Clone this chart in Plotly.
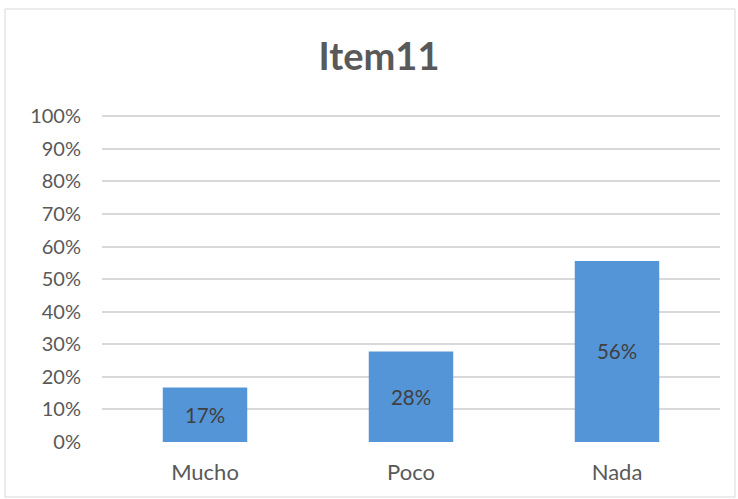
import plotly.graph_objects as go

categories = ["Mucho", "Poco", "Nada"]
values = [0.167, 0.278, 0.556]
labels = ["17%", "28%", "56%"]
tick_vals = [i / 10 for i in range(11)]
tick_text = [f"{i * 10}%" for i in range(11)]

FONT = "Lato"
GRAY = "#595959"

fig = go.Figure(
    go.Bar(
        x=categories,
        y=values,
        text=labels,
        textposition="inside",
        insidetextanchor="middle",
        textangle=0,
        textfont=dict(family=FONT, size=20.5, color="#404040"),
        marker=dict(color="#5495d7", line=dict(width=0)),
        width=0.41,
        hoverinfo="skip",
    )
)

W, H = 738, 499
L, R, T, B = 102, 18, 113, 57
pw, ph = W - L - R, H - T - B


def px_x(p):
    return (p - L) / pw


def px_y(p):
    return (H - B - p) / ph


fig.update_layout(
    width=W,
    height=H,
    margin=dict(l=L, r=R, t=T, b=B),
    paper_bgcolor="white",
    plot_bgcolor="white",
    showlegend=False,
    uniformtext=dict(mode=False),
    title=dict(
        text="<b>Item11</b>",
        x=379 / W,
        xanchor="center",
        y=1 - 57 / H,
        yanchor="middle",
        font=dict(family=FONT, size=38, color=GRAY),
    ),
    xaxis=dict(
        showgrid=False,
        showline=False,
        zeroline=False,
        ticks="",
        tickfont=dict(family=FONT, size=22, color=GRAY),
        ticklabelstandoff=15,
    ),
    yaxis=dict(
        range=[0, 1.01],
        tickvals=tick_vals,
        ticktext=tick_text,
        showgrid=True,
        gridcolor="#d9d9d9",
        gridwidth=1.5,
        zeroline=False,
        showline=False,
        ticks="",
        tickfont=dict(family=FONT, size=20, color=GRAY),
        ticklabelstandoff=20,
    ),
    shapes=[
        dict(
            type="rect",
            xref="paper",
            yref="paper",
            x0=px_x(5),
            x1=px_x(735),
            y0=px_y(497),
            y1=px_y(9),
            line=dict(color="#d9d9d9", width=1),
            fillcolor="rgba(0,0,0,0)",
            layer="below",
        )
    ],
)

fig.write_html(
    "out.html",
    config={"displayModeBar": False},
    post_script="document.body.style.margin='0';document.body.style.overflow='hidden';",
)
